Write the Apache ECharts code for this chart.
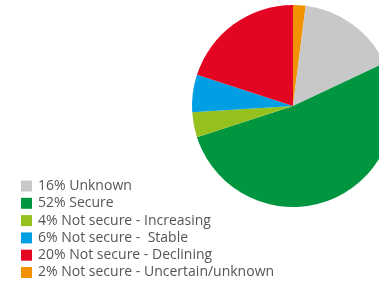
<!DOCTYPE html>
<html>
<head>
<meta charset="utf-8">
<script src="https://cdn.jsdelivr.net/npm/echarts@6/dist/echarts.min.js"></script>
<style>
  html, body { margin: 0; padding: 0; background: #fff; }
  #chart { width: 379px; height: 282px; }
</style>
</head>
<body>
<div id="chart"></div>
<script>
// Slices in drawing order (clockwise from 12 o'clock)
const sliceNames = [
  '2% Not secure - Uncertain/unknown',
  '16% Unknown',
  '52% Secure',
  '4% Not secure - Increasing',
  '6% Not secure -  Stable',
  '20% Not secure - Declining'
];
const sliceValues = [2, 16, 52, 4, 6, 20];
const sliceColors = ['#f39200', '#c8c8c8', '#009640', '#95c11f', '#009fe3', '#e30521'];

// Legend order as shown
const legendOrder = [
  '16% Unknown',
  '52% Secure',
  '4% Not secure - Increasing',
  '6% Not secure -  Stable',
  '20% Not secure - Declining',
  '2% Not secure - Uncertain/unknown'
];

const chart = echarts.init(document.getElementById('chart'));

chart.setOption({
  animation: false,
  backgroundColor: '#fff',
  legend: {
    orient: 'vertical',
    left: 21,
    top: 179,
    height: 140,
    padding: 0,
    icon: 'rect',
    itemWidth: 11,
    itemHeight: 11,
    itemGap: 3.3,
    data: legendOrder,
    textStyle: {
      fontFamily: 'Open Sans, sans-serif',
      fontSize: 14,
      color: '#555',
      padding: [0, 0, 0, 1]
    }
  },
  series: [{
    type: 'pie',
    center: [293, 106],
    radius: 101,
    startAngle: 90,
    clockwise: true,
    label: { show: false },
    labelLine: { show: false },
    itemStyle: { borderWidth: 0 },
    emphasis: { disabled: true },
    data: sliceNames.map((n, i) => ({
      name: n,
      value: sliceValues[i],
      itemStyle: { color: sliceColors[i] }
    }))
  }]
});
</script>
</body>
</html>
